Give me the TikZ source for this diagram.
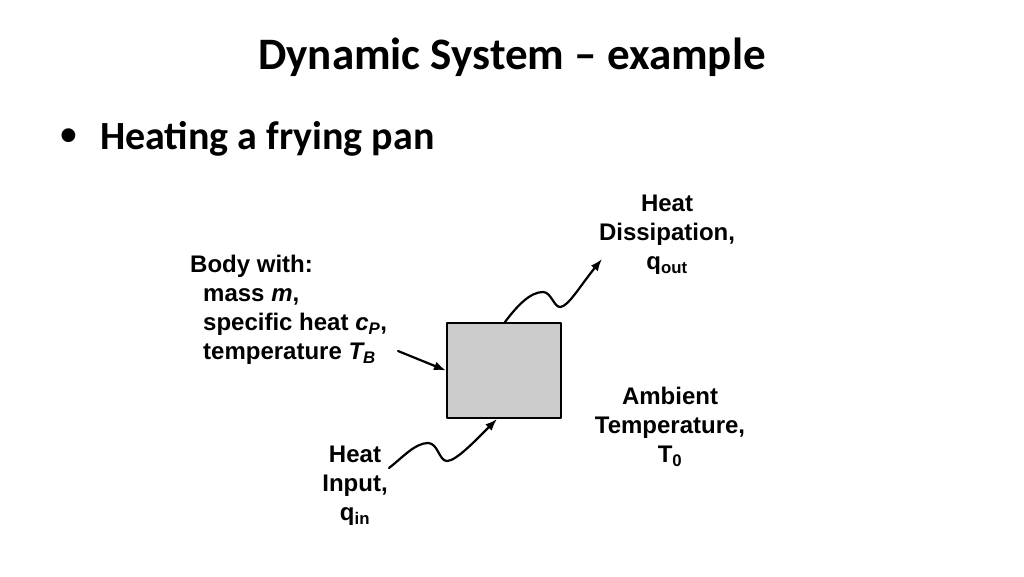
\documentclass[tikz,border=0pt]{standalone}
\usepackage{fontspec}
\setmainfont{Liberation Sans}
\newfontfamily\slidefont{Carlito}
\usetikzlibrary{arrows.meta}
\definecolor{pangray}{RGB}{204,204,204}

\begin{document}
\begin{tikzpicture}[x=1pt,y=1pt,line cap=round,line join=round,
  lbl/.style={font=\fontsize{24}{29}\selectfont\bfseries,align=center,inner sep=0pt},
  flow/.style={-{Latex[length=12pt,width=9pt]},line width=2.2pt}]
\useasboundingbox (0,0) rectangle (1024,576);
\node[font=\slidefont\fontsize{45}{52}\selectfont\bfseries,anchor=base,inner sep=0pt] (title) at (512,506) {Dynamic System – example};
\node[font=\fontsize{48}{48}\selectfont\bfseries,anchor=base,inner sep=0pt] (bullet) at (69,424) {•};
\node[font=\slidefont\fontsize{40}{48}\selectfont\bfseries,anchor=base west,inner sep=0pt] (item) at (100,426) {Heating a frying pan};
\node[draw,fill=pangray,line width=2pt,minimum width=114pt,minimum height=95pt,inner sep=0pt] (pan) at (504,205.5) {};
\node[lbl,align=left,anchor=north west] (body) at (190,321) {Body with:\\\hspace*{13pt}mass \textit{m},\\\hspace*{13pt}specific heat \textit{c\textsubscript{P}},\\\hspace*{13pt}temperature \textit{T\textsubscript{B}}};
\node[lbl,anchor=north] (qout) at (667,381) {Heat\\Dissipation,\\q\textsubscript{out}};
\node[lbl,anchor=north] (ambient) at (670,189) {Ambient\\Temperature,\\T\textsubscript{0}};
\node[lbl,anchor=north] (qin) at (355,130) {Heat\\Input,\\q\textsubscript{in}};
\coordinate (tbstart) at (398,225);
\coordinate (qouttip) at (602,317);
\coordinate (qinstart) at (389,108);
\draw[flow] (tbstart) -- (pan.west);
\draw[flow] ([xshift=1pt]pan.north) .. controls (517,270) and (530,284) .. (543,284)
  .. controls (551,284) and (554,269) .. (560,269)
  .. controls (568,269) and (580,290) .. (qouttip);
\draw[flow] (qinstart) .. controls (402,118) and (415,133) .. (428,133)
  .. controls (438,133) and (439,115) .. (447,115)
  .. controls (456,115) and (475,135) .. ([xshift=-7pt]pan.south);
\end{tikzpicture}
\end{document}
